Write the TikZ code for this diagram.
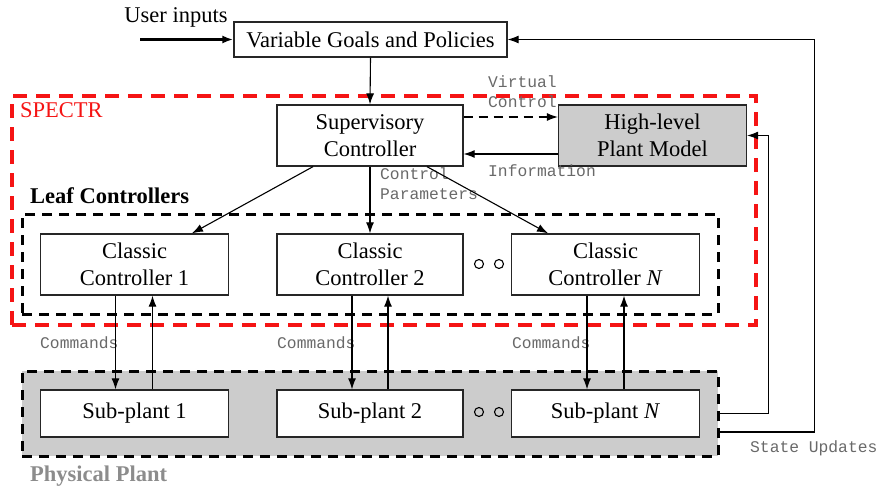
\documentclass[tikz,border=0pt]{standalone}
\usepackage{fontspec}
\setmainfont{Liberation Serif}
\newfontfamily\monof{Liberation Mono}
\usetikzlibrary{arrows.meta}
\definecolor{spred}{RGB}{245,20,20}
\definecolor{plantgray}{RGB}{204,204,204}
\definecolor{lblgray}{RGB}{105,105,105}
\tikzset{
  box/.style={draw=black!85, line width=1.3pt, fill=white, inner sep=0pt, align=center,
    font=\fontsize{22.5}{27}\selectfont},
  arr/.style={line width=1.1pt, -{Latex[length=11pt,width=8pt]}},
  lbl/.style={font=\monof\fontsize{16.3}{20}\selectfont, text=lblgray, inner sep=0pt, anchor=west, align=left},
  ttl/.style={font=\fontsize{22.5}{27}\selectfont, inner sep=0pt, anchor=west},
  dotc/.style={circle, draw=black, line width=1.1pt, minimum size=9pt, inner sep=0pt}
}
\begin{document}
\begin{tikzpicture}[x=1pt,y=-1pt]
\useasboundingbox (0,0) rectangle (878,487);
% containers
\node[draw=spred, line width=4pt, dash pattern=on 14pt off 9pt, inner sep=0pt, minimum width=744pt, minimum height=229pt] (spectr) at (384,210.5) {};
\node[fill=plantgray, draw=black, line width=3pt, dash pattern=on 10pt off 7pt, inner sep=0pt, minimum width=696pt, minimum height=85pt] (pp) at (370,413.5) {};
\node[draw=black, line width=3pt, dash pattern=on 10pt off 7pt, inner sep=0pt, minimum width=696pt, minimum height=100pt] (leaf) at (370,264) {};
% titles
\node[ttl, text=spred] (spt) at (20,110) {SPECTR};
\node[ttl, font=\fontsize{22.5}{27}\selectfont\bfseries] (lct) at (30,196) {Leaf Controllers};
\node[ttl, font=\fontsize{22.5}{27}\selectfont\bfseries, text=black!45] (ppt) at (30,476) {Physical Plant};
% boxes
\node[box, minimum width=273pt, minimum height=35pt] (vg) at (370.5,39.5) {Variable Goals and Policies};
\node[box, minimum width=186pt, minimum height=61pt] (sup) at (370,135.5) {Supervisory\\Controller};
\node[box, fill=plantgray, minimum width=188pt, minimum height=61pt] (hl) at (652.5,135.5) {High-level\\Plant Model};
\node[box, minimum width=188pt, minimum height=61pt] (c1) at (134.5,264.5) {Classic\\Controller 1};
\node[box, minimum width=186pt, minimum height=61pt] (c2) at (370,264.5) {Classic\\Controller 2};
\node[box, minimum width=188pt, minimum height=61pt] (cN) at (605.5,264.5) {Classic\\Controller \textit{N}};
\node[box, minimum width=188pt, minimum height=47pt] (s1) at (134.5,413.5) {Sub-plant 1};
\node[box, minimum width=186pt, minimum height=47pt] (s2) at (370,413.5) {Sub-plant 2};
\node[box, minimum width=188pt, minimum height=47pt] (sN) at (605.5,413.5) {Sub-plant \textit{N}};
% dots
\node[dotc] (d1) at (479,264) {};
\node[dotc] (d2) at (499,264) {};
\node[dotc] (d3) at (479,412) {};
\node[dotc] (d4) at (499,412) {};
% labels
\node[font=\fontsize{22.5}{27}\selectfont, inner sep=0pt] (ui) at (176,17) {User inputs};
\node[lbl] (vc) at (488,92) {Virtual\\Control};
\node[lbl] (inf) at (488,171) {Information};
\node[lbl] (cp) at (380,183.5) {Control\\Parameters};
\node[lbl] (cm1) at (40,343) {Commands};
\node[lbl] (cm2) at (277,343) {Commands};
\node[lbl] (cm3) at (512,343) {Commands};
\node[lbl] (su) at (750,448) {State Updates};
% connectors
\coordinate (uin) at (140,39.5);
\draw[arr, line width=2.4pt] (uin) -- (vg.west);
\draw[arr] (vg.south) -- (sup.north);
\draw[arr, dashed, dash pattern=on 9pt off 6pt] ([yshift=18.5pt]sup.east) -- ([yshift=18.5pt]hl.west);
\draw[arr] ([yshift=-18.5pt]hl.west) -- ([yshift=-18.5pt]sup.east);
\draw[arr] ([xshift=-57pt]sup.south) -- ([xshift=57.5pt]c1.north);
\draw[arr] (sup.south) -- (c2.north);
\draw[arr] ([xshift=57pt]sup.south) -- ([xshift=-57.5pt]cN.north);
\draw[arr] ([xshift=-19pt]c1.south) -- ([xshift=-19pt]s1.north);
\draw[arr] ([xshift=18pt]s1.north) -- ([xshift=18pt]c1.south);
\draw[arr] ([xshift=-18pt]c2.south) -- ([xshift=-18pt]s2.north);
\draw[arr] ([xshift=18pt]s2.north) -- ([xshift=18pt]c2.south);
\draw[arr] ([xshift=-18.5pt]cN.south) -- ([xshift=-18.5pt]sN.north);
\draw[arr] ([xshift=18.5pt]sN.north) -- ([xshift=18.5pt]cN.south);
\draw[arr] (pp.east) -- ++(49,0) |- (hl.east);
\draw[arr] ([yshift=-18.5pt]pp.east) -- ++(95,0) |- (vg.east);
\end{tikzpicture}
\end{document}
